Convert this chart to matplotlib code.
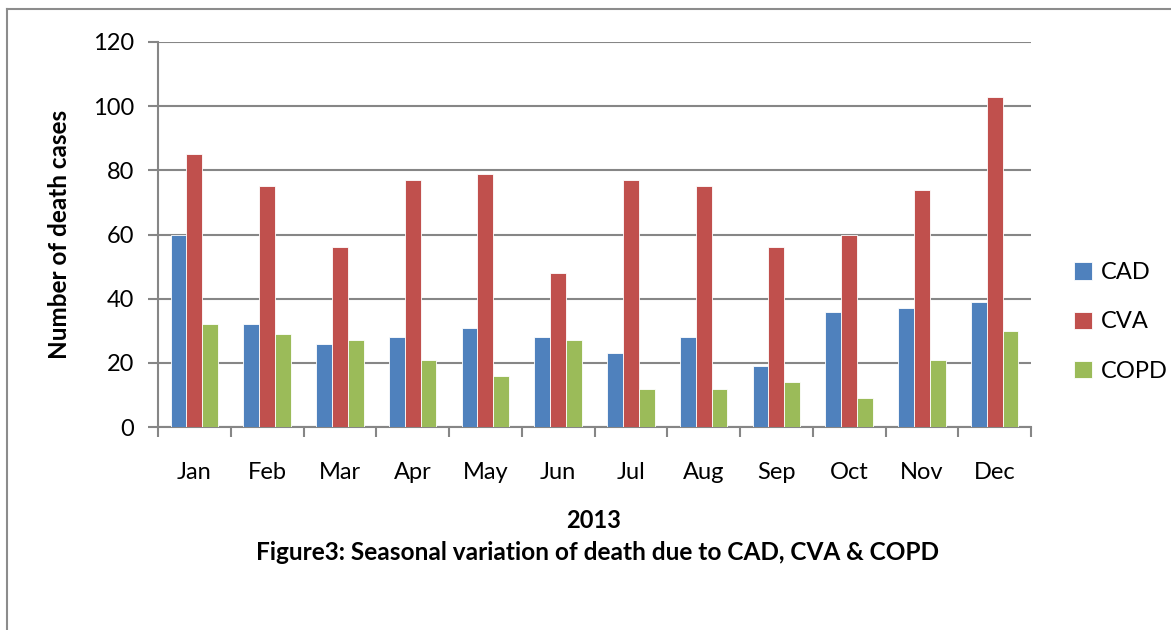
import matplotlib
matplotlib.use("Agg")
import matplotlib.pyplot as plt
import numpy as np
from matplotlib.lines import Line2D

months = ["Jan", "Feb", "Mar", "Apr", "May", "Jun", "Jul", "Aug", "Sep", "Oct", "Nov", "Dec"]
cad = [60, 32, 26, 28, 31, 28, 23, 28, 19, 36, 37, 39]
cva = [85, 75, 56, 77, 79, 48, 77, 75, 56, 60, 74, 103]
copd = [32, 29, 27, 21, 16, 27, 12, 12, 14, 9, 21, 30]
series_names = ["CAD", "CVA", "COPD"]
colors = ["#4F81BD", "#C0504D", "#9BBB59"]

plt.rcParams['font.family'] = ['Lato', 'DejaVu Sans']

W, H = 1171, 630
fig = plt.figure(figsize=(W / 100, H / 100), dpi=100)
ax = fig.add_axes([158 / W, 1 - 427 / H, (1031 - 158) / W, (427 - 42) / H])

x = np.arange(len(months))
bw = 0.218
for i, (vals, c, name) in enumerate(zip([cad, cva, copd], colors, series_names)):
    ax.bar(x + (i - 1) * bw, vals, width=bw, color=c, edgecolor="white",
           linewidth=0.6, label=name, zorder=3)

ax.set_xlim(-0.5, len(months) - 0.5)
ax.set_ylim(0, 120)
ax.set_yticks(np.arange(0, 121, 20))
ax.yaxis.grid(True, color="#868686", linewidth=1.5, zorder=0)
ax.set_axisbelow(True)

for s in ["top", "right"]:
    ax.spines[s].set_visible(False)
for s in ["left", "bottom"]:
    ax.spines[s].set_color("#868686")
    ax.spines[s].set_linewidth(1.5)

ax.set_xticks(x)
ax.set_xticklabels(months)
ax.tick_params(axis="x", which="major", length=0, pad=25, labelsize=17)
ax.set_xticks(np.arange(-0.5, len(months) + 0.5, 1), minor=True)
ax.tick_params(axis="x", which="minor", length=7, width=1.5, color="#868686")
ax.tick_params(axis="y", length=7, width=1.5, color="#868686", labelsize=17, pad=10)

ax.set_ylabel("Number of death cases", fontsize=17.5, fontweight="bold", labelpad=16)

fig.text(594 / W, 1 - 521 / H, "2013", ha="center", va="center",
         fontsize=17, fontweight="bold")
fig.text(598 / W, 1 - 553 / H, "Figure3: Seasonal variation of death due to CAD, CVA & COPD",
         ha="center", va="center", fontsize=17.6, fontweight="bold")

leg = fig.legend(loc="center left", bbox_to_anchor=(1074 / W, 1 - 322 / H),
                 frameon=False, fontsize=17, handlelength=0.75, handleheight=0.75,
                 handletextpad=0.4, labelspacing=1.2, borderpad=0, borderaxespad=0)

# outer border (left and top)
fig.add_artist(Line2D([7 / W, 7 / W], [0, 1 - 9 / H], transform=fig.transFigure,
                      color="#8c8c8c", linewidth=1.5))
fig.add_artist(Line2D([7 / W, 1], [1 - 9 / H, 1 - 9 / H], transform=fig.transFigure,
                      color="#8c8c8c", linewidth=1.5))

fig.savefig("out.png", dpi=100)
